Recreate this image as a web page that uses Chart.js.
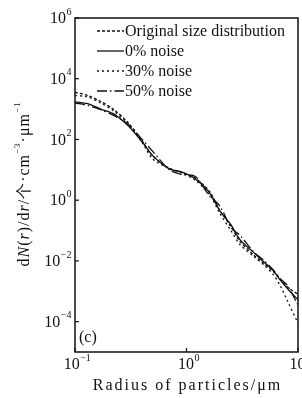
<!DOCTYPE html>
<html>
<head>
<meta charset="utf-8">
<script src="https://cdn.jsdelivr.net/npm/chart.js@4.4.0/dist/chart.umd.min.js"></script>
<style>
  html, body { margin: 0; padding: 0; background: #fff; }
  #wrap { width: 302px; height: 398px; }
</style>
</head>
<body>
<div id="wrap"><canvas id="c"></canvas></div>
<script>
// --------- Datos ---------
const RADIUS = [0.1, 0.13, 0.17, 0.22, 0.3, 0.4, 0.5, 0.7, 0.9, 1.2, 1.6, 2, 2.5, 3, 4, 5, 6, 7, 8, 10];

const ORIGINAL = [3550, 2820, 1780, 1000, 355, 89.1, 28.2, 11.2, 8.32, 5.25, 2.0, 0.447, 0.141, 0.0447, 0.0158, 0.0079, 0.00447, 0.0024, 0.00141, 0.00079];
const NOISE_0 = [1740, 1510, 1000, 708, 282, 83.2, 28.8, 10.7, 8.51, 5.01, 1.82, 0.437, 0.158, 0.0513, 0.0191, 0.0089, 0.00479, 0.00224, 0.00126, 0.000525];
const NOISE_30 = [2820, 2510, 1585, 891, 316, 79.4, 22.4, 11.2, 7.94, 4.47, 1.58, 0.355, 0.1, 0.0355, 0.0141, 0.00708, 0.00355, 0.00141, 0.0005, 0.000089];
const NOISE_50 = [1585, 1318, 955, 631, 316, 100, 39.8, 10, 7.08, 6.03, 1.41, 0.631, 0.126, 0.0708, 0.02, 0.01, 0.005, 0.00251, 0.00158, 0.000355];

const LABELS = ["Original size distribution", "0% noise", "30% noise", "50% noise"];
const X_TICK_EXP = [-1, 0, 1];
const Y_TICK_EXP = [6, 4, 2, 0, -2, -4];

const DASHES = [[3, 2], [], [2, 3], [10, 3, 1.5, 3]];
const SERIES = [ORIGINAL, NOISE_0, NOISE_30, NOISE_50];
const SERIF = '"Liberation Serif", "DejaVu Serif", serif';

// Dibuja "10" con exponente
function drawPow(ctx, exp, x, y, align) {
    ctx.font = "16px " + SERIF;
    const base = "10";
    const wb = ctx.measureText(base).width;
    ctx.font = "10px " + SERIF;
    const sup = String(exp).replace("-", "\u2212");
    const ws = ctx.measureText(sup).width;
    let x0 = x;
    if (align === "right") x0 = x - wb - ws;
    else if (align === "center") x0 = x - (wb + ws) / 2;
    ctx.textAlign = "left";
    ctx.textBaseline = "middle";
    ctx.font = "16px " + SERIF;
    ctx.fillText(base, x0, y);
    ctx.font = "10px " + SERIF;
    ctx.fillText(sup, x0 + wb + 0.5, y - 7);
}

// Texto con trozos en cursiva
function drawRuns(ctx, runs, x, y) {
    let w = 0;
    runs.forEach((r) => {
        ctx.font = r.f;
        w += ctx.measureText(r.t).width;
    });
    let cx = x - w / 2;
    runs.forEach((r) => {
        ctx.font = r.f;
        ctx.fillText(r.t, cx, y + (r.dy || 0));
        cx += ctx.measureText(r.t).width;
    });
}

const framePlugin = {
    id: "frame",
    afterDraw(chart) {
        const { ctx, chartArea: a, scales } = chart;
        const xs = scales.x, ys = scales.y;
        ctx.save();
        ctx.strokeStyle = "#111";
        ctx.fillStyle = "#111";
        ctx.letterSpacing = "0px";
        ctx.lineWidth = 1.5;
        ctx.setLineDash([]);
        ctx.strokeRect(a.left, a.top, a.right - a.left, a.bottom - a.top);

        // ticks hacia dentro
        ctx.lineWidth = 1.2;
        Y_TICK_EXP.forEach((e) => {
            const py = ys.getPixelForValue(Math.pow(10, e));
            ctx.beginPath();
            ctx.moveTo(a.left, py);
            ctx.lineTo(a.left + 4, py);
            ctx.stroke();
            drawPow(ctx, e, a.left - 4, py + 1, "right");
        });
        X_TICK_EXP.forEach((e) => {
            const px = xs.getPixelForValue(Math.pow(10, e));
            ctx.beginPath();
            ctx.moveTo(px, a.bottom);
            ctx.lineTo(px, a.bottom - 4);
            ctx.stroke();
            drawPow(ctx, e, px + 2, a.bottom + 13, "center");
        });

        // (c)
        ctx.font = "16px " + SERIF;
        ctx.fillText("(c)", a.left + 4, a.bottom - 14);

        // leyenda
        const rowY = [31, 51, 71, 91];
        LABELS.forEach((lab, i) => {
            const ds = chart.data.datasets[i];
            ctx.strokeStyle = "#111";
            ctx.lineWidth = 1.3;
            ctx.setLineDash(ds.borderDash);
            ctx.beginPath();
            ctx.moveTo(97, rowY[i]);
            ctx.lineTo(124, rowY[i]);
            ctx.stroke();
            ctx.setLineDash([]);
            ctx.font = "16px " + SERIF;
            ctx.fillText(lab, 125, rowY[i] + 1);
        });

        // título eje x
        ctx.letterSpacing = "2px";
        drawRuns(ctx, [{ t: "Radius of particles/\u03bcm", f: "16px " + SERIF }], (a.left + a.right) / 2 + 1, 386);

        // título eje y
        ctx.save();
        ctx.translate(25, 184);
        ctx.rotate(-Math.PI / 2);
        ctx.letterSpacing = "1px";
        const n = "16px " + SERIF, it = "italic 16px " + SERIF, sm = "9px " + SERIF;
        drawRuns(ctx, [
            { t: "d", f: n }, { t: "N", f: it }, { t: "(", f: n }, { t: "r", f: it },
            { t: ")/d", f: n }, { t: "r", f: it }, { t: "/\u4e2a\u00b7cm", f: n },
            { t: "\u22123", f: sm, dy: -7 }, { t: "\u00b7\u03bcm", f: n }, { t: "\u22121", f: sm, dy: -7 },
        ], 0, 0);
        ctx.restore();
        ctx.restore();
    },
};

new Chart(document.getElementById("c"), {
    type: "line",
    data: {
        datasets: SERIES.map((s, i) => ({
            label: LABELS[i],
            data: RADIUS.map((r, j) => ({ x: r, y: s[j] })),
            borderColor: "#111",
            borderWidth: 1.3,
            borderDash: DASHES[i],
            pointRadius: 0,
            tension: 0.3,
            fill: false,
        })),
    },
    options: {
        responsive: true,
        maintainAspectRatio: false,
        animation: false,
        layout: { padding: { left: 75, right: 4, top: 18, bottom: 46 } },
        plugins: { legend: { display: false }, tooltip: { enabled: false } },
        scales: {
            x: { type: "logarithmic", min: 0.1, max: 10, display: false },
            y: { type: "logarithmic", min: 1e-5, max: 1e6, display: false },
        },
    },
    plugins: [framePlugin],
});
</script>
</body>
</html>
